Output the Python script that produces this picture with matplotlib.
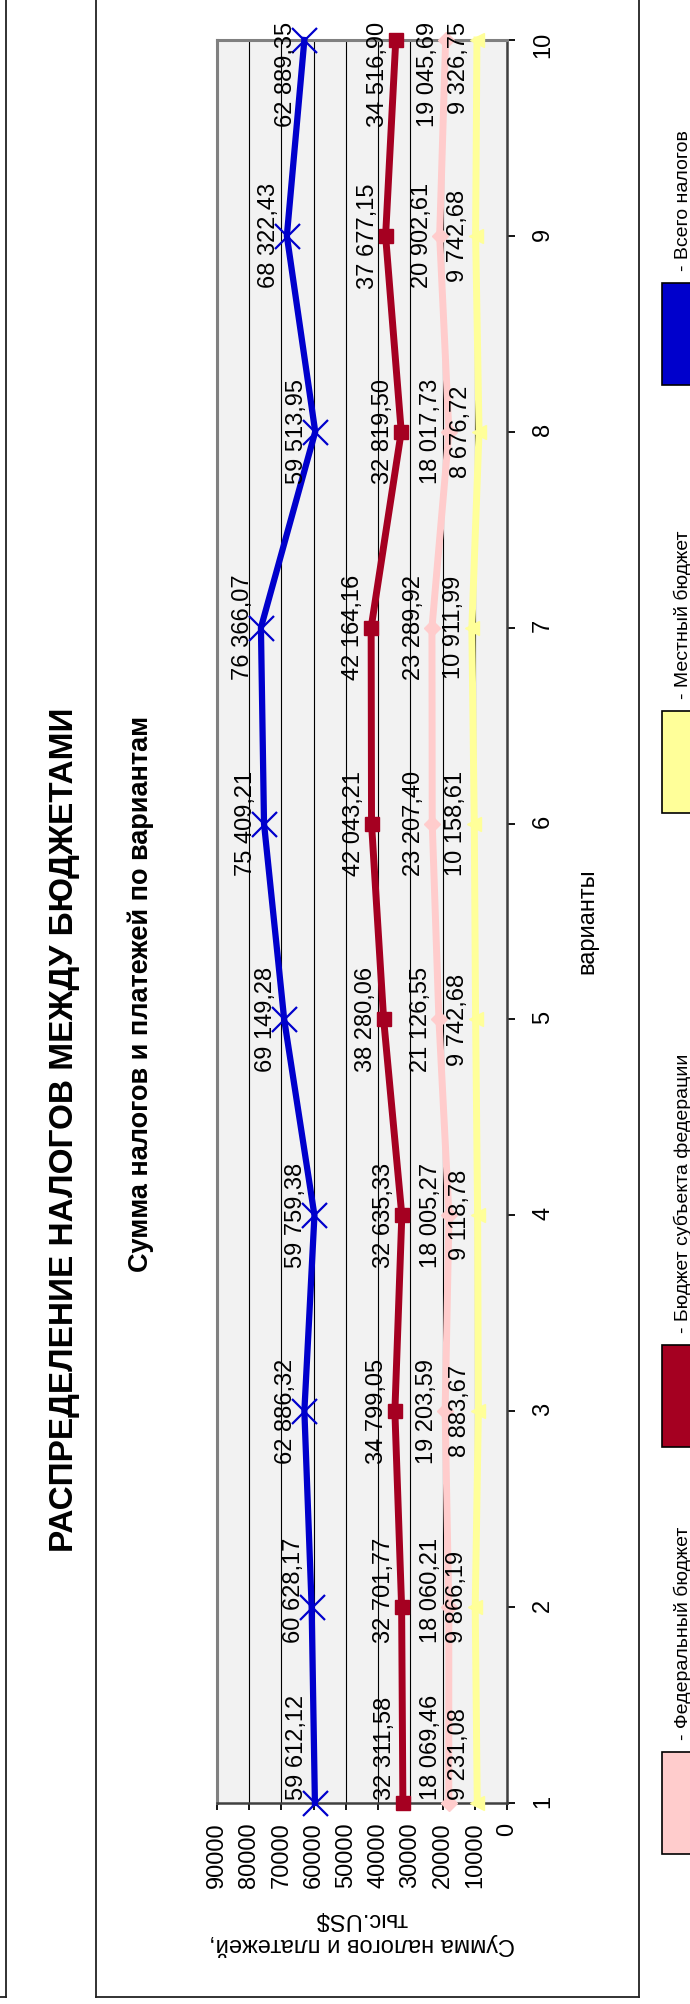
import matplotlib
matplotlib.use('Agg')
import matplotlib.pyplot as plt
from matplotlib.lines import Line2D
from matplotlib.patches import Rectangle

plt.rcParams['font.family'] = ['Liberation Sans', 'DejaVu Sans']

# данные
variants = [1, 2, 3, 4, 5, 6, 7, 8, 9, 10]
federal = [18069.46, 18060.21, 19203.59, 18005.27, 21126.55, 23207.40, 23289.92, 18017.73, 20902.61, 19045.69]
subject = [32311.58, 32701.77, 34799.05, 32635.33, 38280.06, 42043.21, 42164.16, 32819.50, 37677.15, 34516.90]
local = [9231.08, 9866.19, 8883.67, 9118.78, 9742.68, 10158.61, 10911.99, 8676.72, 9742.68, 9326.75]
total = [59612.12, 60628.17, 62886.32, 59759.38, 69149.28, 75409.21, 76366.07, 59513.95, 68322.43, 62889.35]
value_ticks = [0, 10000, 20000, 30000, 40000, 50000, 60000, 70000, 80000, 90000]
series_names = ['- Федеральный бюджет', '- Бюджет субъекта федерации', '- Местный бюджет', '- Всего налогов']

W, H = 690, 2004


def fx(px):
    return px / W


def fy(py):
    return 1 - py / H


def fmt(v):
    return f"{v:,.2f}".replace(",", " ").replace(".", ",")


fig = plt.figure(figsize=(W / 100, H / 100), dpi=100)

# рамки страницы
lines = [
    ((6, 6), (0, 1997)), ((0, 6), (1997, 1997)),
    ((96, 96), (0, 1997)), ((639, 639), (0, 1997)), ((96, 639), (1997, 1997)),
]
for xs, ys in lines:
    fig.add_artist(Line2D([fx(x) for x in xs], [fy(y) for y in ys],
                          transform=fig.transFigure, color='#222222', lw=1.3))

ax = fig.add_axes([fx(217), fy(1803), fx(507) - fx(217), fy(40) - fy(1803)])
ax.set_facecolor('#F2F2F2')

styles = [
    (federal, '#FFCCCC', 'D', 8, 5.0, 1.0),
    (subject, '#A50021', 's', 10.5, 5.0, 1.0),
    (local, '#FFFF99', '<', 10, 5.0, 1.0),
    (total, '#0000CC', 'x', 18, 4.5, 1.6),
]
for vals, col, mk, ms, lw, mew in styles:
    ax.plot(vals, variants, color=col, lw=lw, marker=mk, markersize=ms,
            markerfacecolor=col, markeredgecolor=col, markeredgewidth=mew,
            clip_on=False, zorder=3)

# подписи данных
label_va = ['bottom', 'bottom', 'center', 'center', 'center', 'center', 'center', 'center', 'center', 'top']
label_dy = [3, -36, 0, 0, 0, 0, 0, 0, 0, 18]
for vals, *_ in styles:
    for i, v in enumerate(vals):
        ax.annotate(fmt(v), xy=(v, variants[i]), xytext=(-18, label_dy[i]),
                    textcoords='offset pixels', rotation=90, ha='center',
                    va=label_va[i], fontsize=17, zorder=4, annotation_clip=False)

ax.set_xlim(90000, 0)
ax.set_ylim(1, 10)
ax.set_xticks(value_ticks)
ax.set_xticklabels([str(v) for v in value_ticks], rotation=90, fontsize=17)
ax.set_yticks(variants)
ax.set_yticklabels([str(v) for v in variants], rotation=90, fontsize=17)
ax.yaxis.tick_right()
ax.tick_params(axis='x', direction='out', length=5, width=1.3, pad=9)
ax.tick_params(axis='y', direction='out', length=6, width=1.3, pad=12)
ax.grid(axis='x', color='black', lw=0.8)
ax.set_axisbelow(True)
for side in ['top', 'left']:
    ax.spines[side].set_color('#808080')
    ax.spines[side].set_linewidth(2.2)
for side in ['bottom', 'right']:
    ax.spines[side].set_color('#404040')
    ax.spines[side].set_linewidth(1.8)

# заголовки и подписи осей
fig.text(fx(65), fy(1130), 'РАСПРЕДЕЛЕНИЕ НАЛОГОВ МЕЖДУ БЮДЖЕТАМИ', rotation=90,
         ha='center', va='center', fontsize=24, fontweight='bold')
fig.text(fx(141), fy(994), 'Сумма налогов и платежей по вариантам', rotation=90,
         ha='center', va='center', fontsize=19.5, fontweight='bold')
fig.text(fx(587), fy(921), 'варианты', rotation=90, ha='center', va='center', fontsize=17)
fig.text(fx(362), fy(1932), 'Сумма налогов и платежей,\nтыс.US$', rotation=180,
         ha='center', va='center', fontsize=17, multialignment='center', linespacing=1.15)

# легенда
box_tops = [1752, 1345, 711, 283]
for (vals, col, *_), name, top in zip(styles, series_names, box_tops):
    fig.add_artist(Rectangle((fx(662), fy(top + 102)), fx(700) - fx(662), fy(top) - fy(top + 102),
                             transform=fig.transFigure, facecolor=col, edgecolor='black', lw=1.2))
    fig.text(fx(683), fy(top - 12), name, rotation=90, ha='center', va='bottom', fontsize=14)

fig.savefig('out.png', dpi=100)
